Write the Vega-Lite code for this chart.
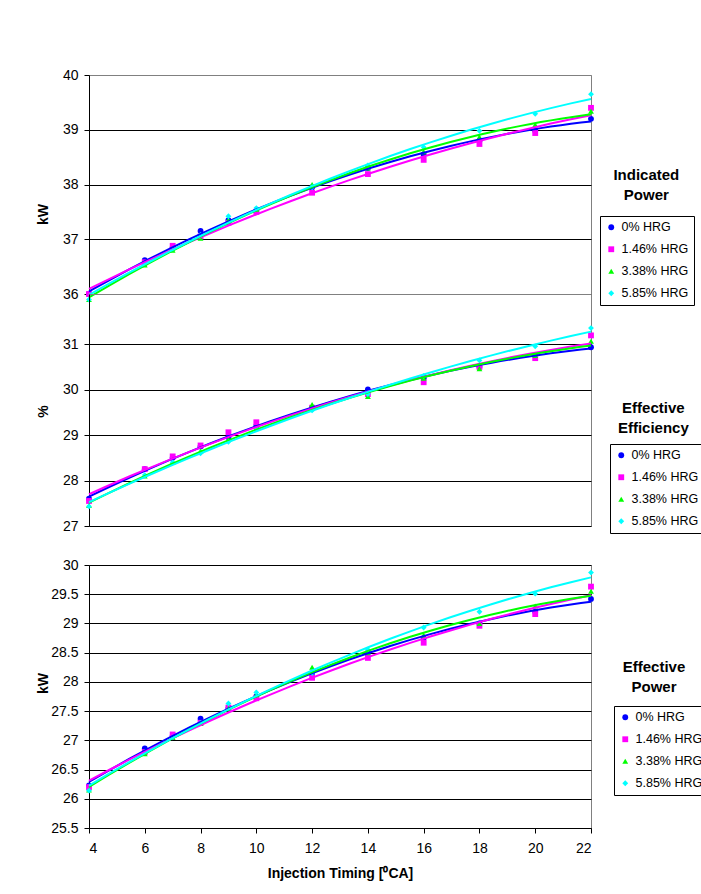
{
  "$schema": "https://vega.github.io/schema/vega-lite/v6.json",
  "background": "white",
  "padding": {"left": 35, "top": 67, "right": 0, "bottom": 0},
  "config": {
    "view": {"stroke": "#808080", "strokeWidth": 1},
    "font": "Liberation Sans",
    "axis": {
      "labelFont": "Liberation Sans", "labelFontSize": 14, "labelColor": "#000",
      "titleFont": "Liberation Sans", "titleFontSize": 14, "titleFontWeight": "bold", "titleColor": "#000",
      "domainColor": "#000", "tickColor": "#000", "gridColor": "#000", "gridOpacity": 1, "gridWidth": 1,
      "tickSize": 5, "labelPadding": 6, "format": "~g"
    },
    "legend": {
      "orient": "none", "strokeColor": "#000", "fillColor": "#fff", "padding": 5,
      "rowPadding": 9, "labelFont": "Liberation Sans", "labelFontSize": 12.5, "labelColor": "#000",
      "symbolSize": 34, "labelOffset": 4, "symbolStrokeWidth": 0
    },
    "title": {"font": "Liberation Sans", "fontSize": 15, "fontWeight": "bold", "color": "#000"}
  },
  "datasets": {
    "ip": [
      {"timing": 4, "series": "0% HRG", "value": 36.0}, {"timing": 6, "series": "0% HRG", "value": 36.62}, {"timing": 7, "series": "0% HRG", "value": 36.85}, {"timing": 8, "series": "0% HRG", "value": 37.15}, {"timing": 9, "series": "0% HRG", "value": 37.35}, {"timing": 10, "series": "0% HRG", "value": 37.52}, {"timing": 12, "series": "0% HRG", "value": 37.95}, {"timing": 14, "series": "0% HRG", "value": 38.3}, {"timing": 16, "series": "0% HRG", "value": 38.55}, {"timing": 18, "series": "0% HRG", "value": 38.8}, {"timing": 20, "series": "0% HRG", "value": 38.98}, {"timing": 22, "series": "0% HRG", "value": 39.2},
      {"timing": 4, "series": "1.46% HRG", "value": 36.0}, {"timing": 6, "series": "1.46% HRG", "value": 36.58}, {"timing": 7, "series": "1.46% HRG", "value": 36.88}, {"timing": 8, "series": "1.46% HRG", "value": 37.05}, {"timing": 9, "series": "1.46% HRG", "value": 37.3}, {"timing": 10, "series": "1.46% HRG", "value": 37.5}, {"timing": 12, "series": "1.46% HRG", "value": 37.85}, {"timing": 14, "series": "1.46% HRG", "value": 38.19}, {"timing": 16, "series": "1.46% HRG", "value": 38.45}, {"timing": 18, "series": "1.46% HRG", "value": 38.74}, {"timing": 20, "series": "1.46% HRG", "value": 38.94}, {"timing": 22, "series": "1.46% HRG", "value": 39.4},
      {"timing": 4, "series": "3.38% HRG", "value": 35.9}, {"timing": 6, "series": "3.38% HRG", "value": 36.53}, {"timing": 7, "series": "3.38% HRG", "value": 36.8}, {"timing": 8, "series": "3.38% HRG", "value": 37.02}, {"timing": 9, "series": "3.38% HRG", "value": 37.35}, {"timing": 10, "series": "3.38% HRG", "value": 37.55}, {"timing": 12, "series": "3.38% HRG", "value": 38.0}, {"timing": 14, "series": "3.38% HRG", "value": 38.3}, {"timing": 16, "series": "3.38% HRG", "value": 38.6}, {"timing": 18, "series": "3.38% HRG", "value": 38.87}, {"timing": 20, "series": "3.38% HRG", "value": 39.09}, {"timing": 22, "series": "3.38% HRG", "value": 39.34},
      {"timing": 4, "series": "5.85% HRG", "value": 35.9}, {"timing": 6, "series": "5.85% HRG", "value": 36.55}, {"timing": 7, "series": "5.85% HRG", "value": 36.82}, {"timing": 8, "series": "5.85% HRG", "value": 37.08}, {"timing": 9, "series": "5.85% HRG", "value": 37.42}, {"timing": 10, "series": "5.85% HRG", "value": 37.57}, {"timing": 12, "series": "5.85% HRG", "value": 37.95}, {"timing": 14, "series": "5.85% HRG", "value": 38.35}, {"timing": 16, "series": "5.85% HRG", "value": 38.68}, {"timing": 18, "series": "5.85% HRG", "value": 38.98}, {"timing": 20, "series": "5.85% HRG", "value": 39.29}, {"timing": 22, "series": "5.85% HRG", "value": 39.65}
    ],
    "ee": [
      {"timing": 4, "series": "0% HRG", "value": 27.6}, {"timing": 6, "series": "0% HRG", "value": 28.25}, {"timing": 7, "series": "0% HRG", "value": 28.5}, {"timing": 8, "series": "0% HRG", "value": 28.75}, {"timing": 9, "series": "0% HRG", "value": 28.95}, {"timing": 10, "series": "0% HRG", "value": 29.2}, {"timing": 12, "series": "0% HRG", "value": 29.6}, {"timing": 14, "series": "0% HRG", "value": 30.0}, {"timing": 16, "series": "0% HRG", "value": 30.25}, {"timing": 18, "series": "0% HRG", "value": 30.5}, {"timing": 20, "series": "0% HRG", "value": 30.75}, {"timing": 22, "series": "0% HRG", "value": 30.93},
      {"timing": 4, "series": "1.46% HRG", "value": 27.55}, {"timing": 6, "series": "1.46% HRG", "value": 28.25}, {"timing": 7, "series": "1.46% HRG", "value": 28.53}, {"timing": 8, "series": "1.46% HRG", "value": 28.77}, {"timing": 9, "series": "1.46% HRG", "value": 29.06}, {"timing": 10, "series": "1.46% HRG", "value": 29.28}, {"timing": 12, "series": "1.46% HRG", "value": 29.6}, {"timing": 14, "series": "1.46% HRG", "value": 29.9}, {"timing": 16, "series": "1.46% HRG", "value": 30.16}, {"timing": 18, "series": "1.46% HRG", "value": 30.5}, {"timing": 20, "series": "1.46% HRG", "value": 30.69}, {"timing": 22, "series": "1.46% HRG", "value": 31.19},
      {"timing": 4, "series": "3.38% HRG", "value": 27.45}, {"timing": 6, "series": "3.38% HRG", "value": 28.1}, {"timing": 7, "series": "3.38% HRG", "value": 28.4}, {"timing": 8, "series": "3.38% HRG", "value": 28.65}, {"timing": 9, "series": "3.38% HRG", "value": 28.9}, {"timing": 10, "series": "3.38% HRG", "value": 29.15}, {"timing": 12, "series": "3.38% HRG", "value": 29.67}, {"timing": 14, "series": "3.38% HRG", "value": 29.85}, {"timing": 16, "series": "3.38% HRG", "value": 30.25}, {"timing": 18, "series": "3.38% HRG", "value": 30.46}, {"timing": 20, "series": "3.38% HRG", "value": 30.75}, {"timing": 22, "series": "3.38% HRG", "value": 31.06},
      {"timing": 4, "series": "5.85% HRG", "value": 27.43}, {"timing": 6, "series": "5.85% HRG", "value": 28.12}, {"timing": 7, "series": "5.85% HRG", "value": 28.4}, {"timing": 8, "series": "5.85% HRG", "value": 28.6}, {"timing": 9, "series": "5.85% HRG", "value": 28.85}, {"timing": 10, "series": "5.85% HRG", "value": 29.15}, {"timing": 12, "series": "5.85% HRG", "value": 29.54}, {"timing": 14, "series": "5.85% HRG", "value": 29.9}, {"timing": 16, "series": "5.85% HRG", "value": 30.3}, {"timing": 18, "series": "5.85% HRG", "value": 30.64}, {"timing": 20, "series": "5.85% HRG", "value": 30.95}, {"timing": 22, "series": "5.85% HRG", "value": 31.35}
    ],
    "ep": [
      {"timing": 4, "series": "0% HRG", "value": 26.23}, {"timing": 6, "series": "0% HRG", "value": 26.86}, {"timing": 7, "series": "0% HRG", "value": 27.08}, {"timing": 8, "series": "0% HRG", "value": 27.37}, {"timing": 9, "series": "0% HRG", "value": 27.55}, {"timing": 10, "series": "0% HRG", "value": 27.75}, {"timing": 12, "series": "0% HRG", "value": 28.15}, {"timing": 14, "series": "0% HRG", "value": 28.5}, {"timing": 16, "series": "0% HRG", "value": 28.75}, {"timing": 18, "series": "0% HRG", "value": 29.0}, {"timing": 20, "series": "0% HRG", "value": 29.2}, {"timing": 22, "series": "0% HRG", "value": 29.42},
      {"timing": 4, "series": "1.46% HRG", "value": 26.2}, {"timing": 6, "series": "1.46% HRG", "value": 26.8}, {"timing": 7, "series": "1.46% HRG", "value": 27.1}, {"timing": 8, "series": "1.46% HRG", "value": 27.3}, {"timing": 9, "series": "1.46% HRG", "value": 27.56}, {"timing": 10, "series": "1.46% HRG", "value": 27.72}, {"timing": 12, "series": "1.46% HRG", "value": 28.07}, {"timing": 14, "series": "1.46% HRG", "value": 28.41}, {"timing": 16, "series": "1.46% HRG", "value": 28.67}, {"timing": 18, "series": "1.46% HRG", "value": 28.96}, {"timing": 20, "series": "1.46% HRG", "value": 29.16}, {"timing": 22, "series": "1.46% HRG", "value": 29.63},
      {"timing": 4, "series": "3.38% HRG", "value": 26.15}, {"timing": 6, "series": "3.38% HRG", "value": 26.77}, {"timing": 7, "series": "3.38% HRG", "value": 27.05}, {"timing": 8, "series": "3.38% HRG", "value": 27.29}, {"timing": 9, "series": "3.38% HRG", "value": 27.55}, {"timing": 10, "series": "3.38% HRG", "value": 27.78}, {"timing": 12, "series": "3.38% HRG", "value": 28.25}, {"timing": 14, "series": "3.38% HRG", "value": 28.5}, {"timing": 16, "series": "3.38% HRG", "value": 28.8}, {"timing": 18, "series": "3.38% HRG", "value": 29.0}, {"timing": 20, "series": "3.38% HRG", "value": 29.3}, {"timing": 22, "series": "3.38% HRG", "value": 29.55},
      {"timing": 4, "series": "5.85% HRG", "value": 26.14}, {"timing": 6, "series": "5.85% HRG", "value": 26.8}, {"timing": 7, "series": "5.85% HRG", "value": 27.05}, {"timing": 8, "series": "5.85% HRG", "value": 27.3}, {"timing": 9, "series": "5.85% HRG", "value": 27.63}, {"timing": 10, "series": "5.85% HRG", "value": 27.82}, {"timing": 12, "series": "5.85% HRG", "value": 28.15}, {"timing": 14, "series": "5.85% HRG", "value": 28.55}, {"timing": 16, "series": "5.85% HRG", "value": 28.93}, {"timing": 18, "series": "5.85% HRG", "value": 29.2}, {"timing": 20, "series": "5.85% HRG", "value": 29.51}, {"timing": 22, "series": "5.85% HRG", "value": 29.87}
    ],
    "blank": [{"a": 0}]
  },
  "spacing": 0,
  "bounds": "flush",
  "resolve": {"scale": {"color": "independent", "shape": "independent"}, "legend": {"color": "independent", "shape": "independent"}},
  "vconcat": [
    {
      "data": {"name": "ip"},
      "width": 502, "height": 219,
      "title": {"text": ["Indicated", "Power"], "orient": "right", "angle": 0, "anchor": "start", "align": "center", "baseline": "top", "offset": -114, "dy": 100, "lineHeight": 20},
      "encoding": {
        "x": {"field": "timing", "type": "quantitative", "scale": {"domain": [4, 22], "nice": false}, "axis": null},
        "y": {"field": "value", "type": "quantitative", "scale": {"domain": [36, 40], "nice": false, "zero": false},
              "axis": {"values": [36, 37, 38, 39, 40], "title": "kW", "grid": true, "gridColor": {"condition": {"test": "datum.value === 40", "value": "#808080"}, "value": "#000"}, "titleX": -46, "titleY": 139, "titleBaseline": "middle", "titleAlign": "center"}}
      },
      "layer": [
        {
          "mark": {"type": "point", "filled": true, "opacity": 1, "size": 34},
          "encoding": {
            "color": {"field": "series", "type": "nominal", "scale": {"domain": ["0% HRG", "1.46% HRG", "3.38% HRG", "5.85% HRG"], "range": ["#0000FF", "#FF00FF", "#00FF00", "#00FFFF"]}, "legend": {"title": null, "legendX": 511, "legendY": 141}},
            "shape": {"field": "series", "type": "nominal", "scale": {"domain": ["0% HRG", "1.46% HRG", "3.38% HRG", "5.85% HRG"], "range": ["circle", "square", "triangle-up", "diamond"]}, "legend": {"title": null, "legendX": 511, "legendY": 141}}
          }
        },
        {
          "transform": [{"regression": "value", "on": "timing", "groupby": ["series"], "method": "poly", "order": 2, "extent": [4, 22]}],
          "mark": {"type": "line", "strokeWidth": 2},
          "encoding": {"color": {"field": "series", "type": "nominal", "legend": null}}
        }
      ]
    },
    {
      "data": {"name": "ee"},
      "width": 502, "height": 232,
      "title": {"text": ["Effective", "Efficiency"], "orient": "right", "angle": 0, "anchor": "start", "align": "center", "baseline": "top", "offset": -122, "dy": 107, "lineHeight": 20},
      "encoding": {
        "x": {"field": "timing", "type": "quantitative", "scale": {"domain": [4, 22], "nice": false}, "axis": null},
        "y": {"field": "value", "type": "quantitative", "scale": {"domain": [27, 32.1], "nice": false, "zero": false},
              "axis": {"values": [27, 28, 29, 30, 31], "title": "%", "grid": true, "titleX": -46, "titleY": 117, "titleBaseline": "middle", "titleAlign": "center"}}
      },
      "layer": [
        {
          "mark": {"type": "point", "filled": true, "opacity": 1, "size": 34},
          "encoding": {
            "color": {"field": "series", "type": "nominal", "scale": {"domain": ["0% HRG", "1.46% HRG", "3.38% HRG", "5.85% HRG"], "range": ["#0000FF", "#FF00FF", "#00FF00", "#00FFFF"]}, "legend": {"title": null, "legendX": 521, "legendY": 150}},
            "shape": {"field": "series", "type": "nominal", "scale": {"domain": ["0% HRG", "1.46% HRG", "3.38% HRG", "5.85% HRG"], "range": ["circle", "square", "triangle-up", "diamond"]}, "legend": {"title": null, "legendX": 521, "legendY": 150}}
          }
        },
        {
          "transform": [{"regression": "value", "on": "timing", "groupby": ["series"], "method": "poly", "order": 2, "extent": [4, 22]}],
          "mark": {"type": "line", "strokeWidth": 2},
          "encoding": {"color": {"field": "series", "type": "nominal", "legend": null}}
        }
      ]
    },
    {
      "data": {"name": "blank"},
      "width": 502, "height": 39,
      "view": {"stroke": null},
      "mark": {"type": "point", "opacity": 0},
      "encoding": {}
    },
    {
      "data": {"name": "ep"},
      "width": 502, "height": 263,
      "title": {"text": ["Effective", "Power"], "orient": "right", "angle": 0, "anchor": "start", "align": "center", "baseline": "top", "offset": -117, "dy": 102, "lineHeight": 20},
      "encoding": {
        "x": {"field": "timing", "type": "quantitative", "scale": {"domain": [4, 22], "nice": false},
              "axis": {"values": [4, 6, 8, 10, 12, 14, 16, 18, 20, 22], "title": "Injection Timing [⁰CA]", "grid": false, "labelPadding": 8, "titlePadding": 11}},
        "y": {"field": "value", "type": "quantitative", "scale": {"domain": [25.5, 30], "nice": false, "zero": false},
              "axis": {"values": [25.5, 26, 26.5, 27, 27.5, 28, 28.5, 29, 29.5, 30], "title": "kW", "grid": true, "titleX": -46, "titleY": 118, "titleBaseline": "middle", "titleAlign": "center"}}
      },
      "layer": [
        {
          "mark": {"type": "point", "filled": true, "opacity": 1, "size": 34},
          "encoding": {
            "color": {"field": "series", "type": "nominal", "scale": {"domain": ["0% HRG", "1.46% HRG", "3.38% HRG", "5.85% HRG"], "range": ["#0000FF", "#FF00FF", "#00FF00", "#00FFFF"]}, "legend": {"title": null, "legendX": 525, "legendY": 141}},
            "shape": {"field": "series", "type": "nominal", "scale": {"domain": ["0% HRG", "1.46% HRG", "3.38% HRG", "5.85% HRG"], "range": ["circle", "square", "triangle-up", "diamond"]}, "legend": {"title": null, "legendX": 525, "legendY": 141}}
          }
        },
        {
          "transform": [{"regression": "value", "on": "timing", "groupby": ["series"], "method": "poly", "order": 2, "extent": [4, 22]}],
          "mark": {"type": "line", "strokeWidth": 2},
          "encoding": {"color": {"field": "series", "type": "nominal", "legend": null}}
        }
      ]
    }
  ]
}
